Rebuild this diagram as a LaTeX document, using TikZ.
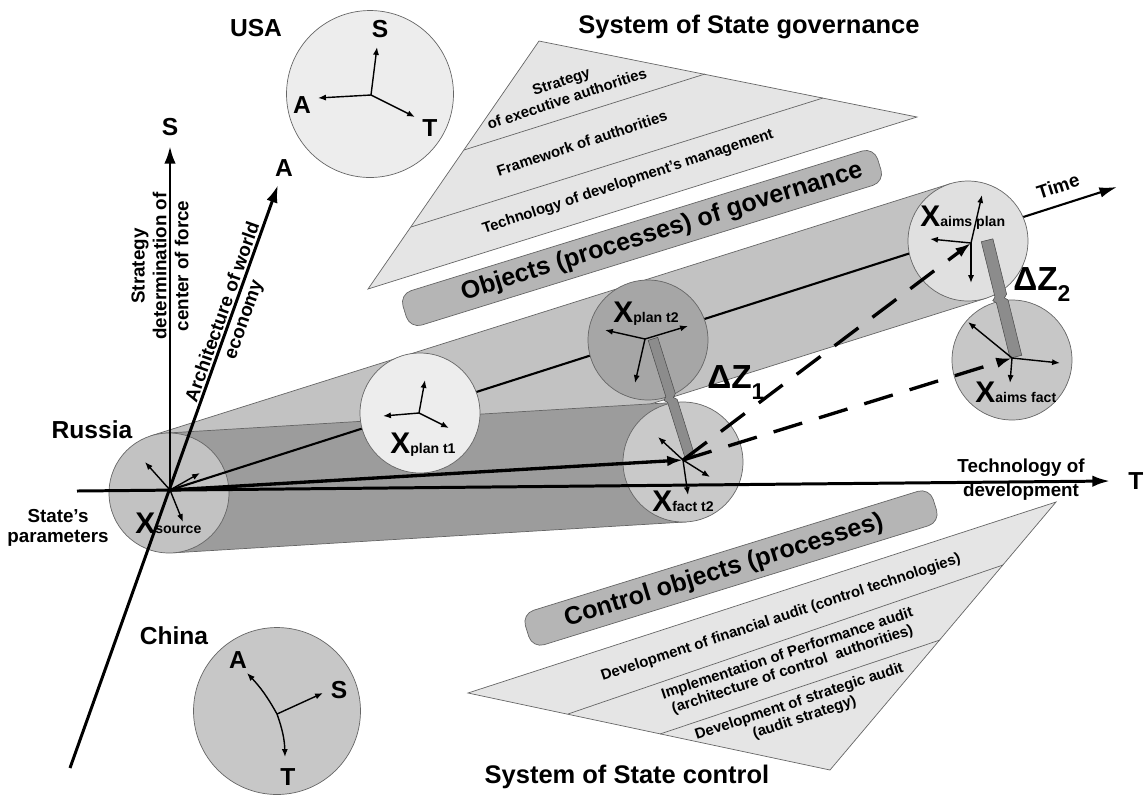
\documentclass[tikz,border=0pt]{standalone}
\usepackage{fontspec}
\setmainfont{Liberation Sans}
\usetikzlibrary{arrows.meta,calc}

\newcommand{\Xlab}[1]{{\fontsize{17}{17}\selectfont\bfseries X}{\fontsize{8}{8}\selectfont\bfseries #1}}
\newcommand{\dZlab}[1]{{\fontsize{19}{19}\selectfont\bfseries ΔZ}\raisebox{-6.5pt}{\fontsize{13}{13}\selectfont\bfseries #1}}

\begin{document}
\begin{tikzpicture}[x=0.02cm, y=-0.02cm,
    bubble/.style={circle, draw=black!60, line width=0.4pt, minimum size=2.4cm, inner sep=0pt},
    country/.style={circle, draw=black!60, line width=0.4pt, minimum size=3.34cm, inner sep=0pt},
    vec/.style={-{Latex[length=4.5pt,width=3.5pt]}, line width=0.8pt},
    axis/.style={-{Latex[length=10pt,width=6.5pt]}, line width=1.7pt},
    bigvec/.style={-{Latex[length=9pt,width=6pt]}, line width=1.9pt},
    dashvec/.style={bigvec, dash pattern=on 17pt off 10pt},
    timeax/.style={-{Latex[length=10pt,width=6pt]}, line width=1.2pt},
    layer/.style={fill=black!10, draw=black!60, line width=0.4pt},
    sepline/.style={draw=black!60, line width=0.4pt},
    tube/.style={draw=black!60, line width=0.4pt},
    zbar/.style={fill=black!45, draw=black!70, line width=0.3pt},
    pill/.style={rectangle, rounded corners=7pt, fill=black!29, draw=black!60, line width=0.4pt, minimum height=0.72cm, rotate=17.2},
    pilltxt/.style={font=\fontsize{14.3}{16}\selectfont\bfseries, rotate=17.2},
    tritxt/.style={font=\fontsize{8.5}{9.5}\selectfont\bfseries, align=center, rotate=18.3},
    title/.style={font=\fontsize{14.5}{16}\selectfont\bfseries},
    lbl/.style={font=\fontsize{14}{16}\selectfont\bfseries, inner sep=0pt},
    axtxt/.style={font=\fontsize{10.7}{12.5}\selectfont\bfseries, align=center, inner sep=0pt},
    xtxt/.style={anchor=base west, inner sep=0pt}
  ]
  \useasboundingbox (0,0) rectangle (1147,796);

  % system of state governance
  \coordinate (gTop) at (539,41);
  \coordinate (gRight) at (917,117);
  \coordinate (gLeft) at (368,289);
  \coordinate (g1a) at (464,150);
  \coordinate (g1b) at (705,74);
  \coordinate (g2a) at (411,227);
  \coordinate (g2b) at (823,98);
  \filldraw[layer] (gTop) -- (gRight) -- (gLeft) -- cycle;
  \draw[sepline] (g1a) -- (g1b);
  \draw[sepline] (g2a) -- (g2b);
  \node[tritxt, font=\fontsize{8.5}{10.5}\selectfont\bfseries] (gStrat) at (564,90) {Strategy\\of executive authorities};
  \node[tritxt] (gFrame) at (582,143) {Framework of authorities};
  \node[tritxt] (gTech) at (628,182) {Technology of development's management};
  \node[title] (gTitle) at (749,27) {System of State governance};

  % system of state control
  \coordinate (cLeft) at (468,693);
  \coordinate (cRight) at (1056,502);
  \coordinate (cBot) at (830,770);
  \coordinate (c1a) at (568,714);
  \coordinate (c1b) at (1003,565);
  \coordinate (c2a) at (660,734);
  \coordinate (c2b) at (940,640);
  \filldraw[layer] (cLeft) -- (cRight) -- (cBot) -- cycle;
  \draw[sepline] (c1a) -- (c1b);
  \draw[sepline] (c2a) -- (c2b);
  \node[tritxt] (cFin) at (781,618) {Development of financial audit (control technologies)};
  \node[tritxt] (cPerf) at (790,662) {Implementation of Performance audit\\(architecture of control\ \ authorities)};
  \node[tritxt] (cStrat) at (802,710) {Development of strategic audit\\(audit strategy)};
  \node[title] (cTitle) at (627,777) {System of State control};

  % objects
  \node[pill, minimum width=9.94cm] (objPill) at (642,238) {};
  \node[pilltxt] (objTxt) at (662,232) {Objects (processes) of governance};
  \node[pill, minimum width=8.54cm] (ctlPill) at (731,568) {};
  \node[pilltxt] (ctlTxt) at (724,571) {Control objects (processes)};

  % USA
  \node[country, fill=black!7] (usa) at (370,94) {};
  \node[lbl] (usaLbl) at (256,28) {USA};
  \coordinate (uo) at (371,95);
  \path (377,47) coordinate (uS) (318,98) coordinate (uA) (415,117) coordinate (uT);
  \foreach \e in {uS,uA,uT} \draw[vec] (uo) -- (\e);
  \node[lbl] (uSl) at (380,29) {S};
  \node[lbl] (uAl) at (302,105) {A};
  \node[lbl] (uTl) at (430,128) {T};

  % China
  \node[country, fill=black!22] (chn) at (277,711) {};
  \node[lbl] (chnLbl) at (174,636) {China};
  \coordinate (co) at (277,714);
  \path (247,673) coordinate (cA) (323,693) coordinate (cS) (285,757) coordinate (cT);
  \draw[vec] (co) to[bend right=7] (cA);
  \draw[vec] (co) -- (cS);
  \draw[vec] (co) to[bend left=9] (cT);
  \node[lbl] (cAl) at (238,660) {A};
  \node[lbl] (cSl) at (339,690) {S};
  \node[lbl] (cTl) at (288,777) {T};

  % tubes
  \coordinate (csrc) at (169,493);
  \coordinate (cpt1) at (420,413);
  \coordinate (cpt2) at (648,340);
  \coordinate (cft2) at (683,462);
  \coordinate (capl) at (968,241);
  \coordinate (cafc) at (1012,360);
  \filldraw[tube, fill=black!24] ($(csrc)!1.2cm!90:(capl)$) -- ($(capl)!1.2cm!-90:(csrc)$)
    -- ($(capl)!1.2cm!90:(csrc)$) -- ($(csrc)!1.2cm!-90:(capl)$) -- cycle;
  \filldraw[tube, fill=black!39] ($(csrc)!1.2cm!90:(cft2)$) -- ($(cft2)!1.2cm!-90:(csrc)$)
    -- ($(cft2)!1.2cm!90:(csrc)$) -- ($(csrc)!1.2cm!-90:(cft2)$) -- cycle;

  \node[bubble, fill=black!24] (src) at (csrc) {};
  \coordinate (o) at (170,490);
  \coordinate (tme) at (1117,187);
  \draw[timeax] (o) -- (tme);
  \node[axtxt, rotate=17.7] (timeLbl) at (1058,186) {Time};

  \node[bubble, fill=black!7] (pt1) at (cpt1) {};
  \node[bubble, fill=black!35] (pt2) at (cpt2) {};
  \node[bubble, fill=black!21] (ft2) at (cft2) {};
  \node[bubble, fill=black!12] (apl) at (capl) {};
  \node[bubble, fill=black!22] (afc) at (cafc) {};

  % deviations
  \begin{scope}[shift={(671.5,398)}, rotate=-72.6]
    \filldraw[zbar] (-62,-5) -- (-3,-5) -- (0,-2) -- (3,-5) -- (62,-5) -- (62,5) -- (3,5) -- (0,8) -- (-3,5) -- (-62,5) -- cycle;
  \end{scope}
  \begin{scope}[shift={(1001.5,298.5)}, rotate=-76.1]
    \filldraw[zbar] (-60,-6) -- (-3,-6) -- (0,-3) -- (3,-6) -- (60,-6) -- (60,6) -- (3,6) -- (0,9) -- (-3,6) -- (-60,6) -- cycle;
  \end{scope}
  \node[xtxt] (dz1) at (707,388) {\dZlab{1}};
  \node[xtxt] (dz2) at (1013,290) {\dZlab{2}};

  % parameters inside the circles
  \path (145,462) coordinate (s1) (200,473) coordinate (s2) (183,522) coordinate (s3);
  \foreach \e in {s1,s2,s3} \draw[vec] (o) -- (\e);
  \coordinate (p1o) at (419,413);
  \path (425,380) coordinate (p1a) (383,416) coordinate (p1b) (449,428) coordinate (p1c);
  \foreach \e in {p1a,p1b,p1c} \draw[vec] (p1o) -- (\e);
  \coordinate (p2o) at (645,339);
  \path (605,330) coordinate (p2a) (688,326) coordinate (p2b) (635,383) coordinate (p2c);
  \foreach \e in {p2a,p2b,p2c} \draw[vec] (p2o) -- (\e);
  \coordinate (fo2) at (683,460);
  \path (658,437) coordinate (f2a) (710,477) coordinate (f2b) (688,495) coordinate (f2c);
  \foreach \e in {f2a,f2b,f2c} \draw[vec] (fo2) -- (\e);
  \coordinate (apo) at (971,243);
  \path (982,195) coordinate (apa) (930,239) coordinate (apb) (971,283) coordinate (apc);
  \foreach \e in {apa,apb,apc} \draw[vec] (apo) -- (\e);
  \coordinate (afo) at (1012,358);
  \path (968,322) coordinate (afa) (1060,363) coordinate (afb) (1010,383) coordinate (afc2);
  \foreach \e in {afa,afb,afc2} \draw[vec] (afo) -- (\e);

  \node[xtxt] (xsrc) at (135,533) {\Xlab{source}};
  \node[xtxt] (xpt1) at (390,453) {\Xlab{plan t1}};
  \node[xtxt] (xpt2) at (613,322) {\Xlab{plan t2}};
  \node[xtxt] (xft2) at (652,511) {\Xlab{fact t2}};
  \node[xtxt] (xapl) at (920,226) {\Xlab{aims plan}};
  \node[xtxt] (xafc) at (975,402) {\Xlab{aims fact}};

  % trajectories
  \draw[bigvec] (o) -- (fo2);
  \draw[dashvec] (fo2) -- (apo);
  \draw[dashvec] (fo2) -- (afo);

  % axes
  \coordinate (sTop) at (170,146);
  \coordinate (aBot) at (70,768);
  \coordinate (aTop) at (278,185);
  \coordinate (tL) at (77,491);
  \coordinate (tR) at (1110,481);
  \draw[axis] (o) -- (sTop);
  \draw[axis] (aBot) -- (aTop);
  \draw[axis] (tL) -- (tR);
  \node[lbl] (sLbl) at (170,127) {S};
  \node[lbl] (aLbl) at (284,168) {A};
  \node[lbl] (tLbl) at (1136,481) {T};
  \node[axtxt, rotate=90] (sTxt) at (160,266) {Strategy\\determination of\\center of force};
  \node[axtxt, rotate=70.5] (aTxt) at (234,316) {Architecture of world\\economy};
  \node[axtxt, font=\fontsize{10.7}{13.7}\selectfont\bfseries] (tTxt) at (1021,480) {Technology of\\development};
  \node[axtxt, font=\fontsize{10.7}{11}\selectfont\bfseries] (stTxt) at (58,528) {State's\\parameters};
  \node[lbl] (rusLbl) at (92,430) {Russia};
\end{tikzpicture}
\end{document}
